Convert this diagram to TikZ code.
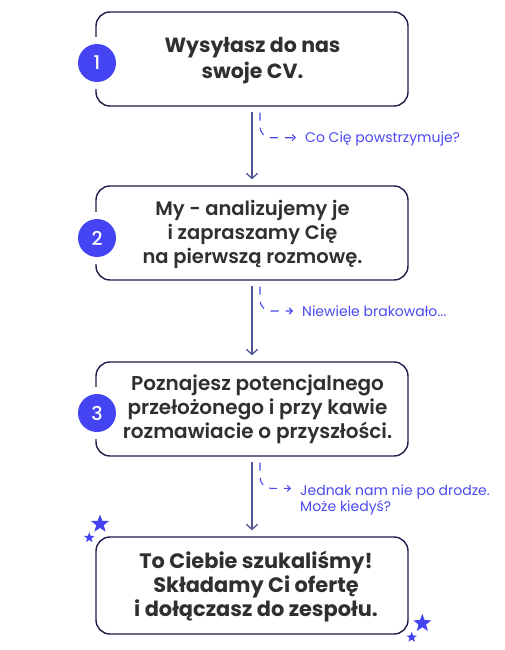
\documentclass[tikz,border=0pt]{standalone}
\usepackage{fontspec}
\newfontfamily\popbd{Poppins Bold}
\newfontfamily\popsb{Poppins SemiBold}
\newfontfamily\popmd{Poppins Medium}
\newfontfamily\poprg{Poppins}
\usetikzlibrary{arrows.meta,shapes.geometric}
\definecolor{navy}{HTML}{1E1E4C}
\definecolor{txt}{HTML}{303030}
\definecolor{accent}{HTML}{4444F2}
\definecolor{arrowc}{HTML}{525690}
\definecolor{branchc}{HTML}{4A4AF0}
\begin{document}
\begin{tikzpicture}[x=1pt,y=-1pt,
  stepbox/.style={draw=navy,line width=1.4pt,rounded corners=14pt,minimum width=312pt,inner sep=0pt},
  ring/.style={circle,fill=white,minimum size=52pt,inner sep=0pt},
  badge/.style={circle,fill=accent,minimum size=38pt,inner sep=0pt,text=white,font=\popmd\fontsize{19}{19}\selectfont},
  boldtxt/.style={align=center,text=txt,inner sep=0pt,font=\popbd\fontsize{20.5}{26}\selectfont},
  medtxt/.style={align=center,text=txt,inner sep=0pt,font=\popsb\fontsize{19.5}{24}\selectfont},
  midtxt/.style={align=center,text=txt,inner sep=0pt,font=\popsb\fontsize{20}{24}\selectfont},
  finaltxt/.style={align=center,text=txt,inner sep=0pt,font=\popbd\fontsize{20.9}{24}\selectfont},
  branchtxt/.style={align=left,text=branchc,inner sep=0pt,font=\poprg\fontsize{14}{16}\selectfont},
  mainarrow/.style={draw=arrowc,line width=1.3pt,-{Straight Barb[length=5pt,width=11pt]},shorten <=5pt,shorten >=6pt},
  branch/.style={draw=branchc,line width=1.1pt,rounded corners=11pt,dash pattern=on 8pt off 7pt,-{Straight Barb[length=3pt,width=6pt]}},
  bigstar/.style={star,star points=5,star point ratio=2.4,fill=accent,inner sep=0pt,minimum size=19pt},
  smallstar/.style={star,star points=5,star point ratio=2.4,fill=accent,inner sep=0pt,minimum size=11pt}
]
\useasboundingbox[fill=white] (0,0) rectangle (504,650);

% boxes
\node[stepbox,minimum height=94pt] (b1) at (252,59) {};
\node[stepbox,minimum height=94pt] (b2) at (252,233) {};
\node[stepbox,minimum height=94pt] (b3) at (252,409) {};
\node[stepbox,minimum height=97pt] (b4) at (252,585.5) {};

% badges
\node[ring] (r1) at (97,63) {};
\node[badge] (c1) at (97,63) {1};
\node[ring] (r2) at (97,238) {};
\node[badge] (c2) at (97,238) {2};
\node[ring] (r3) at (97,413) {};
\node[badge] (c3) at (97,413) {3};

% texts
\node[boldtxt] (t1) at (252.5,61) {Wysyłasz do nas\\swoje CV.};
\node[medtxt] (t2) at (252.5,234) {My - analizujemy je\\i zapraszamy Cię\\na pierwszą rozmowę.};
\node[midtxt] (t3) at (257.5,409) {Poznajesz potencjalnego\\przełożonego i przy kawie\\rozmawiacie o przyszłości.};
\node[finaltxt] (t4) at (256,587) {To Ciebie szukaliśmy!\\Składamy Ci ofertę\\i dołączasz do zespołu.};

% branch labels
\node[branchtxt,anchor=base west] (l1) at (305,142.7) {Co Cię powstrzymuje?};
\node[branchtxt,anchor=base west] (l2) at (302,316) {Niewiele brakowało...};
\node[branchtxt,anchor=base west] (l3) at (300,511) {Jednak nam nie po drodze.\\Może kiedyś?};

% main arrows
\draw[mainarrow] (b1.south) -- (b2.north);
\draw[mainarrow] (b2.south) -- (b3.north);
\draw[mainarrow] (b3.south) -- (b4.north);

% branches
\draw[branch] ([xshift=8pt,yshift=-6pt]b1.south) |- ([xshift=-9pt,yshift=5pt]l1.base west);
\draw[branch] ([xshift=8pt,yshift=-6pt]b2.south) |- ([xshift=-9pt,yshift=5pt]l2.base west);
\draw[branch] ([xshift=8pt,yshift=-6pt]b3.south) |- ([xshift=-9pt,yshift=22.7pt]l3.base west);

% stars
\node[bigstar] (s1) at (100,524) {};
\node[smallstar] (s2) at (89.3,537.7) {};
\node[bigstar] (s3) at (422.3,623.3) {};
\node[smallstar] (s4) at (411.7,637.3) {};
\end{tikzpicture}
\end{document}
